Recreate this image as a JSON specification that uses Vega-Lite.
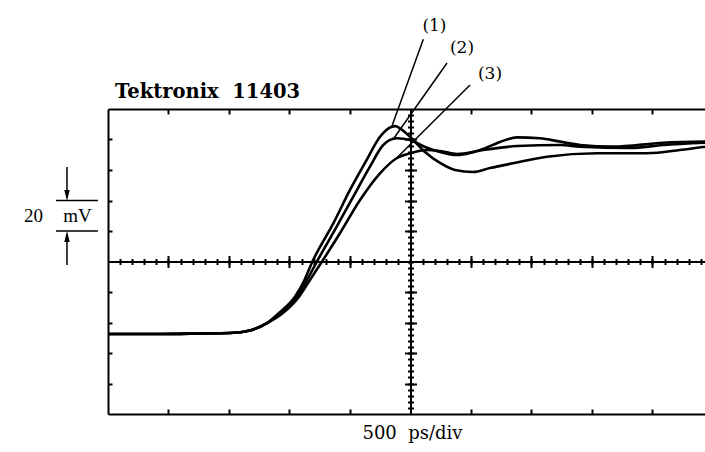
{
  "$schema": "https://vega.github.io/schema/vega-lite/v6.json",
  "width": 597,
  "height": 305,
  "autosize": "none",
  "padding": {"left": 108, "top": 109, "right": 0, "bottom": 38},
  "background": "white",
  "config": {"view": {"stroke": null}},
  "data": {"values": [
    {"trace": "1", "t": -2500, "v": -47.5}, {"trace": "1", "t": -2070, "v": -47.5}, {"trace": "1", "t": -1740, "v": -47.2}, {"trace": "1", "t": -1492, "v": -46.9}, {"trace": "1", "t": -1326, "v": -45.2}, {"trace": "1", "t": -1188, "v": -40.5}, {"trace": "1", "t": -1087, "v": -33.8}, {"trace": "1", "t": -955, "v": -23.1}, {"trace": "1", "t": -876, "v": -12.1}, {"trace": "1", "t": -810, "v": 0}, {"trace": "1", "t": -638, "v": 25.0}, {"trace": "1", "t": -500, "v": 46.9}, {"trace": "1", "t": -362, "v": 66.6}, {"trace": "1", "t": -252, "v": 81.8}, {"trace": "1", "t": -155, "v": 88.4}, {"trace": "1", "t": -125, "v": 88.8}, {"trace": "1", "t": -87, "v": 87.3}, {"trace": "1", "t": -4, "v": 81.8}, {"trace": "1", "t": 120, "v": 71.8}, {"trace": "1", "t": 244, "v": 64.6}, {"trace": "1", "t": 368, "v": 60.0}, {"trace": "1", "t": 517, "v": 58.7}, {"trace": "1", "t": 657, "v": 61.3}, {"trace": "1", "t": 847, "v": 64.4}, {"trace": "1", "t": 1128, "v": 68.7}, {"trace": "1", "t": 1541, "v": 71.0}, {"trace": "1", "t": 1955, "v": 71.0}, {"trace": "1", "t": 2227, "v": 73.1}, {"trace": "1", "t": 2434, "v": 75.3},
    {"trace": "2", "t": -2500, "v": -47.5}, {"trace": "2", "t": -2070, "v": -47.5}, {"trace": "2", "t": -1740, "v": -47.2}, {"trace": "2", "t": -1492, "v": -46.9}, {"trace": "2", "t": -1326, "v": -45.2}, {"trace": "2", "t": -1188, "v": -40.5}, {"trace": "2", "t": -1070, "v": -33.8}, {"trace": "2", "t": -938, "v": -23.1}, {"trace": "2", "t": -855, "v": -12.1}, {"trace": "2", "t": -773, "v": 0}, {"trace": "2", "t": -610, "v": 22.8}, {"trace": "2", "t": -473, "v": 42.5}, {"trace": "2", "t": -335, "v": 62.2}, {"trace": "2", "t": -225, "v": 76.4}, {"trace": "2", "t": -114, "v": 80.8}, {"trace": "2", "t": -4, "v": 79.7}, {"trace": "2", "t": 120, "v": 75.1}, {"trace": "2", "t": 244, "v": 71.8}, {"trace": "2", "t": 384, "v": 69.8}, {"trace": "2", "t": 492, "v": 71.1}, {"trace": "2", "t": 599, "v": 73.8}, {"trace": "2", "t": 740, "v": 78.4}, {"trace": "2", "t": 880, "v": 81.4}, {"trace": "2", "t": 1070, "v": 80.8}, {"trace": "2", "t": 1236, "v": 78.6}, {"trace": "2", "t": 1401, "v": 76.4}, {"trace": "2", "t": 1674, "v": 75.3}, {"trace": "2", "t": 2087, "v": 77.9}, {"trace": "2", "t": 2434, "v": 78.6},
    {"trace": "3", "t": -2500, "v": -47.5}, {"trace": "3", "t": -2070, "v": -47.5}, {"trace": "3", "t": -1740, "v": -47.2}, {"trace": "3", "t": -1492, "v": -46.9}, {"trace": "3", "t": -1326, "v": -45.2}, {"trace": "3", "t": -1188, "v": -40.5}, {"trace": "3", "t": -1054, "v": -33.8}, {"trace": "3", "t": -921, "v": -23.1}, {"trace": "3", "t": -831, "v": -12.1}, {"trace": "3", "t": -731, "v": 0}, {"trace": "3", "t": -583, "v": 18.5}, {"trace": "3", "t": -417, "v": 40.3}, {"trace": "3", "t": -252, "v": 57.8}, {"trace": "3", "t": -114, "v": 67.7}, {"trace": "3", "t": -4, "v": 70.9}, {"trace": "3", "t": 134, "v": 73.1}, {"trace": "3", "t": 244, "v": 72.5}, {"trace": "3", "t": 384, "v": 70.5}, {"trace": "3", "t": 599, "v": 73.1}, {"trace": "3", "t": 880, "v": 75.7}, {"trace": "3", "t": 1236, "v": 76.4}, {"trace": "3", "t": 1401, "v": 75.3}, {"trace": "3", "t": 1814, "v": 74.4}, {"trace": "3", "t": 2087, "v": 76.4}, {"trace": "3", "t": 2434, "v": 77.9}
  ]},
  "resolve": {"axis": {"x": "independent", "y": "independent"}},
  "layer": [
    {
      "mark": {"type": "line", "color": "black", "strokeWidth": 2.6, "interpolate": "monotone"},
      "encoding": {
        "x": {"field": "t", "type": "quantitative", "scale": {"domain": [-2500, 2434], "nice": false, "zero": false},
          "axis": {"orient": "bottom", "values": [-2000, -1500, -1000, -500, 500, 1000, 1500, 2000], "tickSize": -5, "tickWidth": 2, "tickColor": "black", "domainColor": "black", "domainWidth": 2, "labels": false, "grid": false, "title": "500\u00a0 ps/div", "titleFont": "DejaVu Serif", "titleFontSize": 18, "titleFontWeight": "normal", "titleColor": "black", "titlePadding": 9, "titleX": 304}},
        "y": {"field": "v", "type": "quantitative", "scale": {"domain": [-100, 100], "nice": false, "zero": false},
          "axis": {"orient": "left", "values": [-80, -60, -40, -20, 20, 40, 60, 80], "tickSize": -4, "tickWidth": 2, "tickColor": "black", "domainColor": "black", "domainWidth": 2, "labels": false, "grid": false, "title": null}},
        "detail": {"field": "trace", "type": "nominal"}
      }
    },
    {
      "mark": {"type": "point", "opacity": 0},
      "encoding": {
        "x": {"field": "t", "type": "quantitative", "scale": {"domain": [-2500, 2434], "nice": false, "zero": false},
          "axis": {"orient": "top", "values": [-2000, -1500, -1000, -500, 500, 1000, 1500, 2000], "tickSize": -5, "tickWidth": 2, "tickColor": "black", "domainColor": "black", "domainWidth": 2, "labels": false, "grid": false, "title": null}},
        "y": {"field": "v", "type": "quantitative", "scale": {"domain": [-100, 100], "nice": false, "zero": false},
          "axis": {"orient": "left", "offset": -302.5, "values": [-96, -92, -88, -84, -80, -76, -72, -68, -64, -60, -56, -52, -48, -44, -40, -36, -32, -28, -24, -20, -16, -12, -8, -4, 0, 4, 8, 12, 16, 20, 24, 28, 32, 36, 40, 44, 48, 52, 56, 60, 64, 68, 72, 76, 80, 84, 88, 92, 96], "tickSize": 3, "tickWidth": 2, "tickColor": "black", "domainColor": "black", "domainWidth": 2, "labels": false, "grid": false, "title": null}}
      }
    },
    {
      "mark": {"type": "point", "opacity": 0},
      "encoding": {
        "x": {"field": "t", "type": "quantitative", "scale": {"domain": [-2500, 2434], "nice": false, "zero": false},
          "axis": {"orient": "bottom", "offset": -152.5, "values": [-2400, -2300, -2200, -2100, -2000, -1900, -1800, -1700, -1600, -1500, -1400, -1300, -1200, -1100, -1000, -900, -800, -700, -600, -500, -400, -300, -200, -100, 0, 100, 200, 300, 400, 500, 600, 700, 800, 900, 1000, 1100, 1200, 1300, 1400, 1500, 1600, 1700, 1800, 1900, 2000, 2100, 2200, 2300, 2400], "tickSize": 3, "tickWidth": 2, "tickColor": "black", "domainColor": "black", "domainWidth": 2, "labels": false, "grid": false, "title": null}},
        "y": {"field": "v", "type": "quantitative", "scale": {"domain": [-100, 100], "nice": false, "zero": false},
          "axis": {"orient": "left", "offset": -302.5, "values": [-96, -92, -88, -84, -80, -76, -72, -68, -64, -60, -56, -52, -48, -44, -40, -36, -32, -28, -24, -20, -16, -12, -8, -4, 0, 4, 8, 12, 16, 20, 24, 28, 32, 36, 40, 44, 48, 52, 56, 60, 64, 68, 72, 76, 80, 84, 88, 92, 96], "tickSize": -3, "tickWidth": 2, "tickColor": "black", "domain": false, "labels": false, "grid": false, "title": null}}
      }
    },
    {
      "mark": {"type": "point", "opacity": 0},
      "encoding": {
        "x": {"field": "t", "type": "quantitative", "scale": {"domain": [-2500, 2434], "nice": false, "zero": false},
          "axis": {"orient": "bottom", "offset": -152.5, "values": [-2400, -2300, -2200, -2100, -2000, -1900, -1800, -1700, -1600, -1500, -1400, -1300, -1200, -1100, -1000, -900, -800, -700, -600, -500, -400, -300, -200, -100, 0, 100, 200, 300, 400, 500, 600, 700, 800, 900, 1000, 1100, 1200, 1300, 1400, 1500, 1600, 1700, 1800, 1900, 2000, 2100, 2200, 2300, 2400], "tickSize": -3, "tickWidth": 2, "tickColor": "black", "domain": false, "labels": false, "grid": false, "title": null}},
        "y": {"field": "v", "type": "quantitative", "scale": {"domain": [-100, 100], "nice": false, "zero": false},
          "axis": {"orient": "left", "offset": -302.5, "values": [-80, -60, -40, -20, 20, 40, 60, 80], "tickSize": 6, "tickWidth": 2, "tickColor": "black", "domain": false, "labels": false, "grid": false, "title": null}}
      }
    },
    {
      "mark": {"type": "point", "opacity": 0},
      "encoding": {
        "x": {"field": "t", "type": "quantitative", "scale": {"domain": [-2500, 2434], "nice": false, "zero": false},
          "axis": {"orient": "bottom", "offset": -152.5, "values": [-2000, -1500, -1000, -500, 500, 1000, 1500, 2000], "tickSize": 6, "tickWidth": 2, "tickColor": "black", "domain": false, "labels": false, "grid": false, "title": null}},
        "y": {"field": "v", "type": "quantitative", "scale": {"domain": [-100, 100], "nice": false, "zero": false},
          "axis": {"orient": "left", "offset": -302.5, "values": [-80, -60, -40, -20, 20, 40, 60, 80], "tickSize": -6, "tickWidth": 2, "tickColor": "black", "domain": false, "labels": false, "grid": false, "title": null}}
      }
    },
    {
      "mark": {"type": "point", "opacity": 0},
      "encoding": {
        "x": {"field": "t", "type": "quantitative", "scale": {"domain": [-2500, 2434], "nice": false, "zero": false},
          "axis": {"orient": "bottom", "offset": -152.5, "values": [-2000, -1500, -1000, -500, 500, 1000, 1500, 2000], "tickSize": -6, "tickWidth": 2, "tickColor": "black", "domain": false, "labels": false, "grid": false, "title": null}}
      }
    },
    {
      "data": {"values": [
        {"label": "(1)", "t": 106, "v": 145.7, "t2": -153, "v2": 88.9},
        {"label": "(2)", "t": 302, "v": 130.2, "t2": -136, "v2": 81},
        {"label": "(3)", "t": 492, "v": 115.7, "t2": -112, "v2": 68}
      ]},
      "mark": {"type": "rule", "color": "black", "strokeWidth": 1.5},
      "encoding": {
        "x": {"field": "t", "type": "quantitative", "scale": {"domain": [-2500, 2434], "nice": false, "zero": false}, "axis": null},
        "y": {"field": "v", "type": "quantitative", "scale": {"domain": [-100, 100], "nice": false, "zero": false}, "axis": null},
        "x2": {"field": "t2"},
        "y2": {"field": "v2"}
      }
    },
    {
      "data": {"values": [
        {"part": "upper", "t": -2930, "t2": -2583, "v": 40, "v2": 40},
        {"part": "lower", "t": -2930, "t2": -2583, "v": 20, "v2": 20},
        {"part": "arrow down", "t": -2839, "t2": -2839, "v": 62, "v2": 42},
        {"part": "arrow up", "t": -2839, "t2": -2839, "v": -2.3, "v2": 18}
      ]},
      "mark": {"type": "rule", "color": "black", "strokeWidth": 1.5},
      "encoding": {
        "x": {"field": "t", "type": "quantitative", "scale": {"domain": [-2500, 2434], "nice": false, "zero": false}, "axis": null},
        "y": {"field": "v", "type": "quantitative", "scale": {"domain": [-100, 100], "nice": false, "zero": false}, "axis": null},
        "x2": {"field": "t2"},
        "y2": {"field": "v2"}
      }
    },
    {
      "data": {"values": [
        {"dir": "down", "t": -2839, "v": 43.3},
        {"dir": "up", "t": -2839, "v": 16.4}
      ]},
      "mark": {"type": "point", "filled": true, "color": "black", "opacity": 1, "size": 121, "strokeWidth": 0},
      "encoding": {
        "x": {"field": "t", "type": "quantitative", "scale": {"domain": [-2500, 2434], "nice": false, "zero": false}, "axis": null},
        "y": {"field": "v", "type": "quantitative", "scale": {"domain": [-100, 100], "nice": false, "zero": false}, "axis": null},
        "shape": {"field": "dir", "type": "nominal", "scale": {"domain": ["down", "up"], "range": ["M-0.5,-1L0.5,-1L0,1Z", "M-0.5,1L0.5,1L0,-1Z"]}, "legend": null}
      }
    },
    {
      "data": {"values": [
        {"text": "(1)", "t": 198, "v": 154.4},
        {"text": "(2)", "t": 426, "v": 140},
        {"text": "(3)", "t": 657, "v": 122.9}
      ]},
      "mark": {"type": "text", "font": "DejaVu Serif", "fontSize": 17, "color": "black", "align": "center", "baseline": "middle"},
      "encoding": {
        "x": {"field": "t", "type": "quantitative", "scale": {"domain": [-2500, 2434], "nice": false, "zero": false}, "axis": null},
        "y": {"field": "v", "type": "quantitative", "scale": {"domain": [-100, 100], "nice": false, "zero": false}, "axis": null},
        "text": {"field": "text", "type": "nominal"}
      }
    },
    {
      "data": {"values": [
        {"text": "20", "t": -3116, "v": 29.8},
        {"text": "mV", "t": -2752, "v": 29.8}
      ]},
      "mark": {"type": "text", "font": "Liberation Serif", "fontSize": 19, "color": "black", "align": "center", "baseline": "middle"},
      "encoding": {
        "x": {"field": "t", "type": "quantitative", "scale": {"domain": [-2500, 2434], "nice": false, "zero": false}, "axis": null},
        "y": {"field": "v", "type": "quantitative", "scale": {"domain": [-100, 100], "nice": false, "zero": false}, "axis": null},
        "text": {"field": "text", "type": "nominal"}
      }
    },
    {
      "data": {"values": [
        {"text": "Tektronix\u00a0 11403", "t": -2442, "v": 107.2}
      ]},
      "mark": {"type": "text", "font": "DejaVu Serif", "fontSize": 19.5, "fontWeight": "bold", "color": "black", "align": "left", "baseline": "alphabetic"},
      "encoding": {
        "x": {"field": "t", "type": "quantitative", "scale": {"domain": [-2500, 2434], "nice": false, "zero": false}, "axis": null},
        "y": {"field": "v", "type": "quantitative", "scale": {"domain": [-100, 100], "nice": false, "zero": false}, "axis": null},
        "text": {"field": "text", "type": "nominal"}
      }
    }
  ]
}
